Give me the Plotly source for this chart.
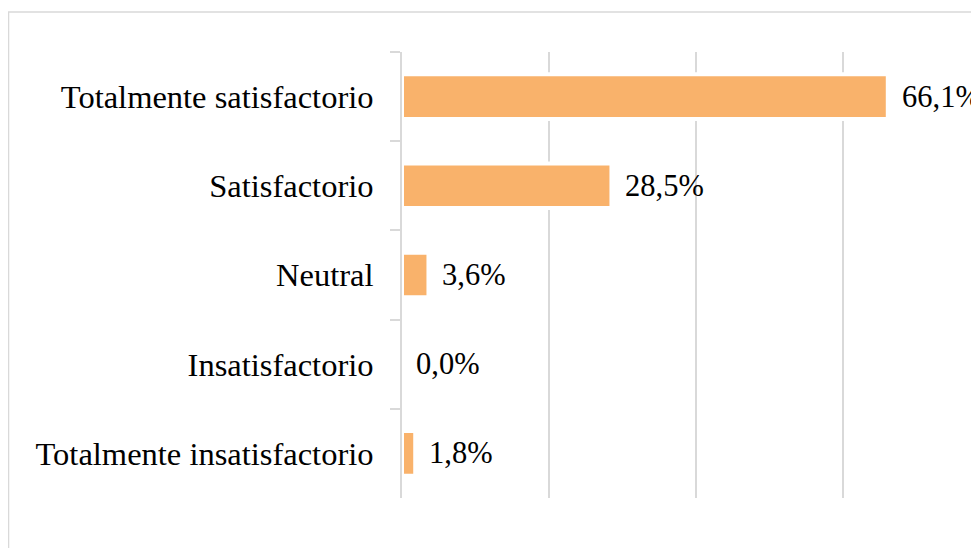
import plotly.graph_objects as go

categories = ["Totalmente satisfactorio", "Satisfactorio", "Neutral",
              "Insatisfactorio", "Totalmente insatisfactorio"]
values = [66.1, 28.5, 3.6, 0.0, 1.8]
value_labels = ["66,1%", "28,5%", "3,6%", "0,0%", "1,8%"]

BAR = "#F9B26B"
GRID = "#D9D9D9"
FONT = "Liberation Serif"

fig = go.Figure()
fig.add_trace(go.Bar(
    x=values, y=categories, orientation="h",
    marker=dict(color=BAR, line=dict(color="white", width=4)),
    width=0.5, hoverinfo="skip",
))

for v, c, t in zip(values, categories, value_labels):
    fig.add_annotation(x=v, y=c, text=t, showarrow=False, xanchor="left",
                       xshift=12, font=dict(family=FONT, size=30.5, color="black"))

fig.add_shape(type="rect", xref="paper", yref="paper",
              x0=-0.6726, x1=1.2, y0=-0.3, y1=1.0897,
              line=dict(color=GRID, width=1.5), fillcolor="rgba(0,0,0,0)",
              layer="below")

fig.update_layout(
    width=979, height=548,
    margin=dict(l=394, r=0, t=44, b=58),
    paper_bgcolor="white", plot_bgcolor="white",
    showlegend=False,
    font=dict(family=FONT, size=31, color="black"),
    xaxis=dict(range=[0, 79.6], tickvals=[0, 20, 40, 60, 80], showticklabels=False,
               showgrid=True, gridcolor=GRID, gridwidth=1.5, zeroline=False,
               showline=False, fixedrange=True),
    yaxis=dict(autorange="reversed", showline=True, linecolor=GRID, linewidth=2,
               ticks="outside", ticklen=10, tickcolor=GRID, tickwidth=2,
               tickson="boundaries", showgrid=False, ticklabelstandoff=20,
               tickfont=dict(family=FONT, size=32.5, color="black")),
)

fig.write_html("out.html")
